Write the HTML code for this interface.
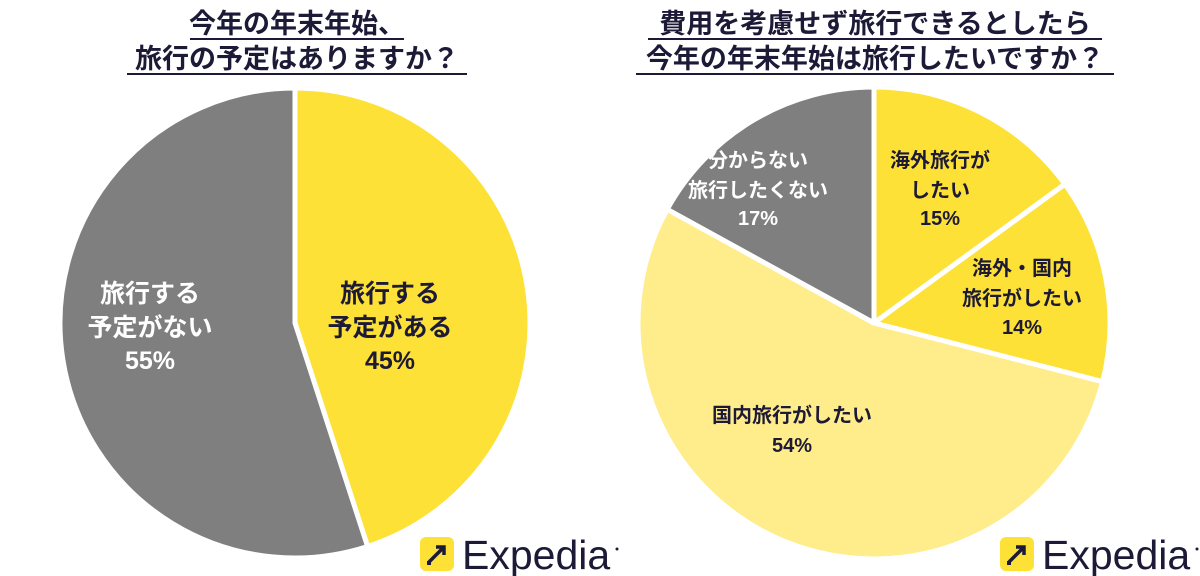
<!DOCTYPE html>
<html><head><meta charset="utf-8"><style>
body{margin:0;background:#fff;}
svg{display:block;}
text{font-family:"Liberation Sans","Noto Sans CJK JP",sans-serif;font-weight:bold;}
</style></head><body>
<svg width="1200" height="576" viewBox="0 0 1200 576" xmlns="http://www.w3.org/2000/svg">
<rect width="1200" height="576" fill="#fff"/>
<g fill="#1c1a36" font-size="27" text-anchor="middle">
<text x="297" y="33">今年の年末年始、</text>
<text x="297" y="68">旅行の予定はありますか？</text>
<text x="875" y="33">費用を考慮せず旅行できるとしたら</text>
<text x="875" y="68">今年の年末年始は旅行したいですか？</text>
</g>
<g stroke="#1c1a36" stroke-width="2">
<line x1="190" y1="39" x2="404" y2="39"/>
<line x1="127" y1="74" x2="467" y2="74"/>
<line x1="648" y1="39" x2="1102" y2="39"/>
<line x1="636" y1="74" x2="1114" y2="74"/>
</g>
<g stroke="#fff" stroke-width="5" stroke-linejoin="round">
<path d="M295,323 L295,88 A235,235 0 0 1 367.6,546.5 Z" fill="#fde136"/>
<path d="M295,323 L367.6,546.5 A235,235 0 1 1 295,88 Z" fill="#7f7f7f"/>
<path d="M874,323 L874,87 A236,236 0 0 1 1064.9,184.2 Z" fill="#fde136"/>
<path d="M874,323 L1064.9,184.2 A236,236 0 0 1 1102.6,381.7 Z" fill="#fde136"/>
<path d="M874,323 L1102.6,381.7 A236,236 0 1 1 667.2,209.3 Z" fill="#ffec8a"/>
<path d="M874,323 L667.2,209.3 A236,236 0 0 1 874,87 Z" fill="#7f7f7f"/>
</g>
<g font-size="25" text-anchor="middle">
<g fill="#fff"><text x="150" y="302">旅行する</text><text x="150" y="336">予定がない</text><text x="150" y="369">55%</text></g>
<g fill="#1c1a36"><text x="390" y="302">旅行する</text><text x="390" y="336">予定がある</text><text x="390" y="369">45%</text></g>
</g>
<g font-size="20" text-anchor="middle">
<g fill="#fff"><text x="758" y="167">分からない</text><text x="758" y="197">旅行したくない</text><text x="758" y="225">17%</text></g>
<g fill="#1c1a36"><text x="940" y="167">海外旅行が</text><text x="940" y="197">したい</text><text x="940" y="225">15%</text>
<text x="1022" y="275">海外・国内</text><text x="1022" y="305">旅行がしたい</text><text x="1022" y="334">14%</text>
<text x="792" y="422">国内旅行がしたい</text><text x="792" y="452">54%</text></g>
</g>
<g id="logo">
<rect x="420" y="537" width="34" height="34" rx="6" fill="#fde136"/>
<path d="M429,562 L444,547 M436,547 L444,547 L444,555" stroke="#1c1a36" stroke-width="3.5" fill="none"/>
<rect x="427" y="561" width="4" height="4" fill="#1c1a36"/>
<text x="462" y="569" font-size="41" fill="#1c1a36" style="font-weight:normal">Expedia</text>
<circle cx="617" cy="549" r="1.5" fill="#1c1a36"/>
</g>
<use href="#logo" x="580"/>
</svg>
</body></html>
